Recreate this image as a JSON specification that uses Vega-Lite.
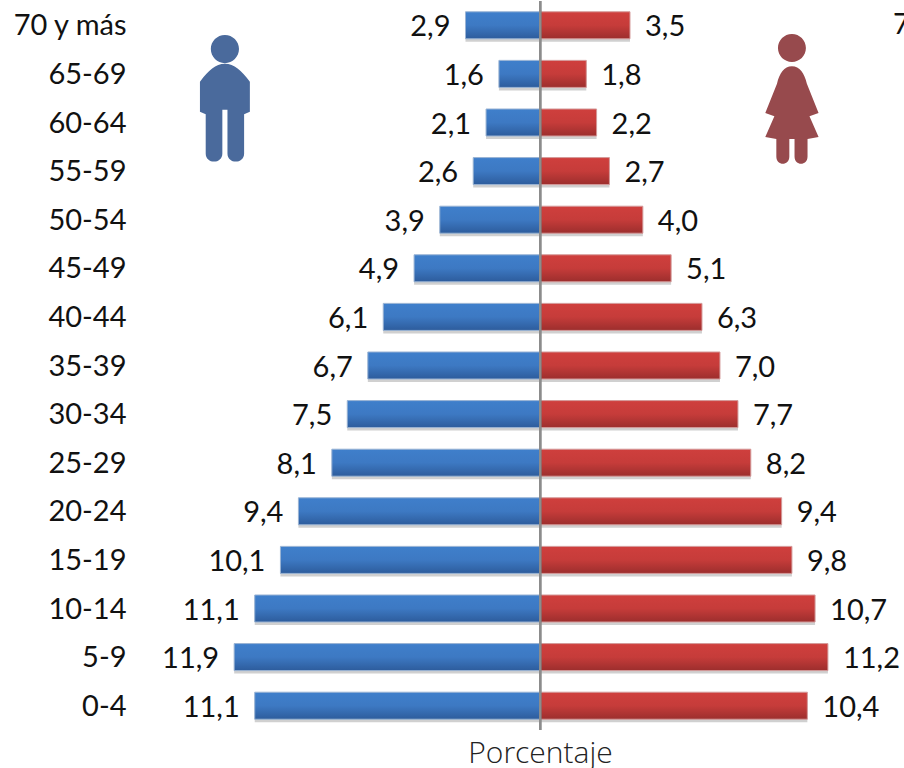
{
"$schema":"https://vega.github.io/schema/vega-lite/v6.json",
"width":904,"height":729,"padding":{"left":0,"right":0,"top":1,"bottom":38},"autosize":{"type":"none"},
"background":"white",
"config":{"view":{"stroke":null},"font":"Lato"},
"datasets":{"piramide":[
{"edad":"70 y más","sexo":"Hombres","valor":-2.9,"etiqueta":"2,9"},{"edad":"70 y más","sexo":"Mujeres","valor":3.5,"etiqueta":"3,5"},
{"edad":"65-69","sexo":"Hombres","valor":-1.6,"etiqueta":"1,6"},{"edad":"65-69","sexo":"Mujeres","valor":1.8,"etiqueta":"1,8"},
{"edad":"60-64","sexo":"Hombres","valor":-2.1,"etiqueta":"2,1"},{"edad":"60-64","sexo":"Mujeres","valor":2.2,"etiqueta":"2,2"},
{"edad":"55-59","sexo":"Hombres","valor":-2.6,"etiqueta":"2,6"},{"edad":"55-59","sexo":"Mujeres","valor":2.7,"etiqueta":"2,7"},
{"edad":"50-54","sexo":"Hombres","valor":-3.9,"etiqueta":"3,9"},{"edad":"50-54","sexo":"Mujeres","valor":4.0,"etiqueta":"4,0"},
{"edad":"45-49","sexo":"Hombres","valor":-4.9,"etiqueta":"4,9"},{"edad":"45-49","sexo":"Mujeres","valor":5.1,"etiqueta":"5,1"},
{"edad":"40-44","sexo":"Hombres","valor":-6.1,"etiqueta":"6,1"},{"edad":"40-44","sexo":"Mujeres","valor":6.3,"etiqueta":"6,3"},
{"edad":"35-39","sexo":"Hombres","valor":-6.7,"etiqueta":"6,7"},{"edad":"35-39","sexo":"Mujeres","valor":7.0,"etiqueta":"7,0"},
{"edad":"30-34","sexo":"Hombres","valor":-7.5,"etiqueta":"7,5"},{"edad":"30-34","sexo":"Mujeres","valor":7.7,"etiqueta":"7,7"},
{"edad":"25-29","sexo":"Hombres","valor":-8.1,"etiqueta":"8,1"},{"edad":"25-29","sexo":"Mujeres","valor":8.2,"etiqueta":"8,2"},
{"edad":"20-24","sexo":"Hombres","valor":-9.4,"etiqueta":"9,4"},{"edad":"20-24","sexo":"Mujeres","valor":9.4,"etiqueta":"9,4"},
{"edad":"15-19","sexo":"Hombres","valor":-10.1,"etiqueta":"10,1"},{"edad":"15-19","sexo":"Mujeres","valor":9.8,"etiqueta":"9,8"},
{"edad":"10-14","sexo":"Hombres","valor":-11.1,"etiqueta":"11,1"},{"edad":"10-14","sexo":"Mujeres","valor":10.7,"etiqueta":"10,7"},
{"edad":"5-9","sexo":"Hombres","valor":-11.9,"etiqueta":"11,9"},{"edad":"5-9","sexo":"Mujeres","valor":11.2,"etiqueta":"11,2"},
{"edad":"0-4","sexo":"Hombres","valor":-11.1,"etiqueta":"11,1"},{"edad":"0-4","sexo":"Mujeres","valor":10.4,"etiqueta":"10,4"}
]},
"data":{"name":"piramide"},
"encoding":{
"x":{"field":"valor","type":"quantitative","scale":{"domain":[-21.01,14.16],"nice":false,"zero":false},
"axis":{"grid":false,"ticks":false,"labels":false,"domain":false,"title":"Porcentaje","titleFontSize":30,"titleFont":"Open Sans","titleFontWeight":300,"titleColor":"#222222","titleX":540,"titleY":23,"titleBaseline":"middle","titleAnchor":"middle","titleAlign":"center"}},
"y":{"field":"edad","type":"nominal","sort":["70 y más","65-69","60-64","55-59","50-54","45-49","40-44","35-39","30-34","25-29","20-24","15-19","10-14","5-9","0-4"],
"scale":{"paddingInner":0.444,"paddingOuter":0.222},
"axis":{"title":null,"ticks":false,"domain":false,"grid":false,"offset":-126,"labelPadding":0,"labelOffset":1,"labelFontSize":29,"labelColor":"#111111","labelFont":"Lato"}}
},
"layer":[
{"mark":{"type":"bar","color":"#8a8a8a","opacity":0.4},"encoding":{"yOffset":{"value":3}}},
{"transform":[{"filter":"datum.sexo==='Hombres'"}],
"mark":{"type":"bar","stroke":"#9ab4d4","strokeWidth":1,"fill":{"x1":0,"y1":0,"x2":0,"y2":1,"gradient":"linear","stops":[{"offset":0,"color":"#3f7fcb"},{"offset":0.5,"color":"#3d79c3"},{"offset":1,"color":"#2d5c9c"}]}}},
{"transform":[{"filter":"datum.sexo==='Mujeres'"}],
"mark":{"type":"bar","stroke":"#d49a9a","strokeWidth":1,"fill":{"x1":0,"y1":0,"x2":0,"y2":1,"gradient":"linear","stops":[{"offset":0,"color":"#cf3f3d"},{"offset":0.5,"color":"#c63c3a"},{"offset":1,"color":"#9c2e2d"}]}}},
{"mark":{"type":"rule","color":"#8c8c8c","strokeWidth":2},"encoding":{"x":{"datum":0},"y":{}}},
{"transform":[{"filter":"datum.sexo==='Hombres'"}],
"mark":{"type":"text","align":"right","baseline":"middle","dx":-15,"dy":2,"fontSize":29,"color":"#111111"},
"encoding":{"text":{"field":"etiqueta"}}},
{"transform":[{"filter":"datum.sexo==='Mujeres'"}],
"mark":{"type":"text","align":"left","baseline":"middle","dx":15,"dy":2,"fontSize":29,"color":"#111111"},
"encoding":{"text":{"field":"etiqueta"}}},
{"data":{"values":[{"edad":"60-64","valor":-12.26}]},
"mark":{"type":"point","filled":true,"fill":"#4a6a9c","opacity":1,"strokeWidth":0,"size":16384,
"shape":"M0,-0.55 C0.15,-0.55 0.25,-0.45 0.39,-0.27 L0.39,0.2 L0.3,0.24 L0.3,0.85 C0.3,1.02 0.04,1.02 0.04,0.85 L0.04,0.17 L-0.04,0.17 L-0.04,0.85 C-0.04,1.02 -0.3,1.02 -0.3,0.85 L-0.3,0.24 L-0.39,0.2 L-0.39,-0.27 C-0.25,-0.45 -0.15,-0.55 0,-0.55 Z M0.22,-0.78 A0.22,0.22 0 1 0 -0.22,-0.78 A0.22,0.22 0 1 0 0.22,-0.78 Z"},
"encoding":{"yOffset":{"value":-10}}},
{"data":{"values":[{"edad":"60-64","valor":9.8}]},
"mark":{"type":"point","filled":true,"fill":"#974a4d","opacity":1,"strokeWidth":0,"size":16900,
"shape":"M0,-0.52 C0.12,-0.52 0.19,-0.42 0.23,-0.25 L0.41,0.2 L0.27,0.25 L0.41,0.57 L0.24,0.6 L0.24,0.87 C0.24,1.02 0.04,1.02 0.04,0.87 L0.04,0.6 L-0.04,0.6 L-0.04,0.87 C-0.04,1.02 -0.24,1.02 -0.24,0.87 L-0.24,0.6 L-0.41,0.57 L-0.27,0.25 L-0.41,0.2 L-0.23,-0.25 C-0.19,-0.42 -0.12,-0.52 0,-0.52 Z M0.215,-0.8 A0.215,0.215 0 1 0 -0.215,-0.8 A0.215,0.215 0 1 0 0.215,-0.8 Z"},
"encoding":{"yOffset":{"value":-9}}},
{"data":{"values":[{"edad":"70 y más","valor":13.73,"etiqueta":"7"}]},
"mark":{"type":"text","align":"left","baseline":"middle","fontSize":29,"color":"#111111"},
"encoding":{"text":{"field":"etiqueta"}}}
]
}
